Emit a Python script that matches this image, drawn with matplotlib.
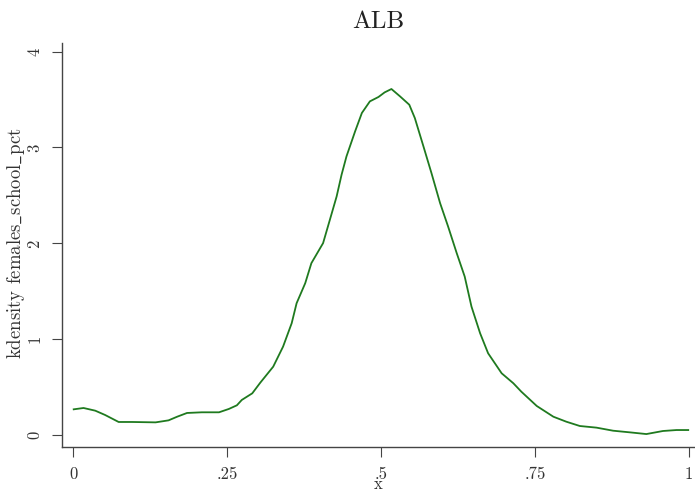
import matplotlib
matplotlib.use("Agg")
import matplotlib.pyplot as plt

plt.rcParams['mathtext.fontset'] = 'cm'
plt.rcParams['font.family'] = ['cmr10', 'DejaVu Serif']
plt.rcParams['axes.formatter.use_mathtext'] = True

title = "ALB"
ylabel = r"kdensity females$\_$school$\_$pct"
xlabel = "x"

xs = [0.001, 0.017, 0.036, 0.052, 0.074, 0.096, 0.134, 0.155, 0.169, 0.185,
      0.209, 0.237, 0.253, 0.266, 0.274, 0.291, 0.304, 0.325, 0.341, 0.355,
      0.363, 0.377, 0.387, 0.406, 0.417, 0.428, 0.436, 0.444, 0.458, 0.469,
      0.482, 0.496, 0.506, 0.517, 0.531, 0.546, 0.555, 0.569, 0.582, 0.596,
      0.609, 0.623, 0.636, 0.647, 0.661, 0.674, 0.696, 0.715, 0.728, 0.753,
      0.780, 0.801, 0.823, 0.850, 0.877, 0.904, 0.931, 0.958, 0.980, 0.999]
density = [0.268, 0.282, 0.254, 0.209, 0.136, 0.136, 0.132, 0.153, 0.191, 0.230,
           0.237, 0.237, 0.272, 0.310, 0.366, 0.435, 0.546, 0.713, 0.922, 1.166,
           1.375, 1.584, 1.793, 2.002, 2.245, 2.489, 2.715, 2.907, 3.168, 3.360,
           3.481, 3.527, 3.575, 3.610, 3.533, 3.446, 3.307, 3.011, 2.733, 2.420,
           2.176, 1.898, 1.653, 1.340, 1.062, 0.853, 0.644, 0.540, 0.452, 0.303,
           0.191, 0.139, 0.094, 0.077, 0.045, 0.028, 0.010, 0.042, 0.052, 0.052]

xticks = [0, 0.25, 0.5, 0.75, 1]
xticklabels = ["0", ".25", ".5", ".75", "1"]
yticks = [0, 1, 2, 3, 4]
yticklabels = ["0", "1", "2", "3", "4"]

fig = plt.figure(figsize=(6.95, 4.99), dpi=100)
ax = fig.add_axes([62/695, 1 - 447/499, 1 - 62/695, (447 - 43)/499])
ax.plot(xs, density, color='#1f7a1f', lw=1.3)

ax.set_xlim(-0.018, 1.01)
ax.set_ylim(-0.125, 4.09)
ax.spines['top'].set_visible(False)
ax.spines['right'].set_visible(False)
for s in ['left', 'bottom']:
    ax.spines[s].set_color('#444444')
    ax.spines[s].set_linewidth(1.0)

ax.set_xticks(xticks)
ax.set_xticklabels(xticklabels)
ax.set_yticks(yticks)
ax.set_yticklabels(yticklabels, rotation=90, va='center')
ax.tick_params(axis='both', direction='out', length=7, width=0.8, color='#444444',
               labelsize=12, labelcolor='#333333', pad=7)

ax.set_title(title, fontsize=18, color='#222222', pad=11)
ax.set_ylabel(ylabel, fontsize=13.5, color='#333333')
ax.yaxis.set_label_coords(-0.056, 0.505)
ax.set_xlabel(xlabel, fontsize=12, color='#333333', labelpad=-4)

fig.savefig("out.png", dpi=100)
